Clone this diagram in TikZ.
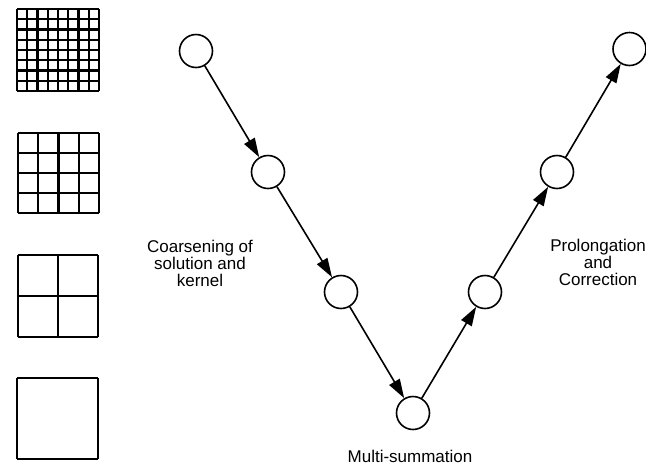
\documentclass[tikz,border=0pt]{standalone}
\usepackage{fontspec}
\setmainfont{Liberation Sans}
\usetikzlibrary{arrows.meta}
\begin{document}
\begin{tikzpicture}[x=1pt,y=-1pt,
  level/.style={circle,draw,line width=1.6pt,minimum size=33pt,inner sep=0pt},
  flow/.style={line width=1.6pt,-{Triangle[length=19pt,width=12pt]}},
  gridline/.style={line width=2.2pt,line cap=square},
  caption/.style={font=\fontsize{17}{17}\selectfont,align=center,inner sep=0pt}]
\useasboundingbox (0,0) rectangle (646,467);

% coarse-to-fine meshes on the left
\foreach \n/\xa/\ya/\xb/\yb in {8/17/9/99/91, 4/18/133/99/213, 2/18/255/98/337, 1/17/378/98/459}{
  \foreach \i in {0,...,\n}{
    \draw[gridline] ({\xa+(\xb-\xa)*\i/\n},\ya) -- ({\xa+(\xb-\xa)*\i/\n},\yb);
    \draw[gridline] (\xa,{\ya+(\yb-\ya)*\i/\n}) -- (\xb,{\ya+(\yb-\ya)*\i/\n});
  }
}

% V-cycle levels
\node[level] (c1) at (196,51) {};
\node[level] (c2) at (268,172) {};
\node[level] (c3) at (341,292) {};
\node[level] (c4) at (413,413) {};
\node[level] (c5) at (485,292) {};
\node[level] (c6) at (557,172) {};
\node[level] (c7) at (629.5,49) {};

\draw[flow] (c1) -- (c2);
\draw[flow] (c2) -- (c3);
\draw[flow] (c3) -- (c4);
\draw[flow] (c4) -- (c5);
\draw[flow] (c5) -- (c6);
\draw[flow] (c6) -- (c7);

\node[caption] (coarse) at (200,263) {Coarsening of\\solution and\\kernel};
\node[caption] (prolong) at (598,262) {Prolongation\\and\\Correction};
\node[caption] (multi) at (410,456) {Multi-summation};
\end{tikzpicture}
\end{document}
